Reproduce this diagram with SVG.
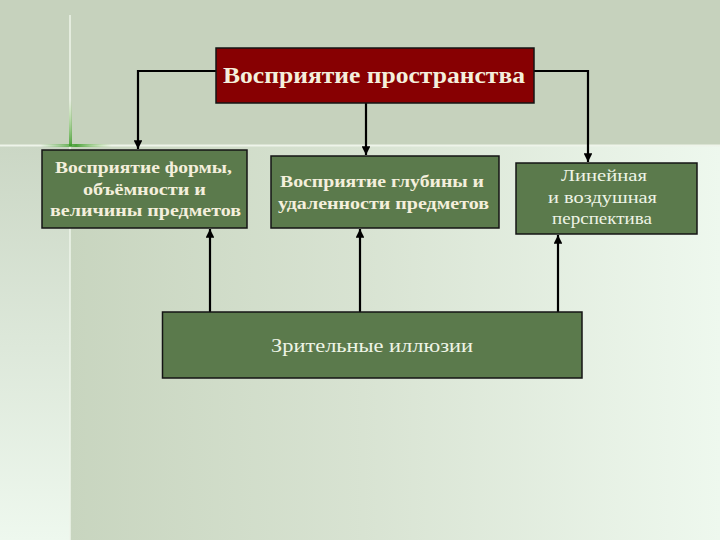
<svg xmlns="http://www.w3.org/2000/svg" width="720" height="540" viewBox="0 0 720 540">
<defs>
<style>
.node{fill:#5b7a4c;stroke:#141414;stroke-width:1.5}
.head{fill:#870002;stroke:#141414;stroke-width:1.5}
.tb{font-family:"Liberation Serif","DejaVu Serif",serif;font-weight:bold;fill:#f4efdc;text-anchor:middle}
.tn{font-family:"Liberation Serif","DejaVu Serif",serif;fill:#eef4e6;text-anchor:middle}
.con{fill:none;stroke:#000;stroke-width:2.2}
</style>
<marker id="arr" viewBox="0 0 10 10" refX="10" refY="5" markerWidth="4" markerHeight="4" orient="auto" markerUnits="strokeWidth">
<path d="M0,0 L10,5 L0,10 z" fill="#000"/>
</marker>
<linearGradient id="bgMain" x1="0" y1="0" x2="1" y2="0">
<stop offset="0" stop-color="#c8d5bf"/>
<stop offset="0.45" stop-color="#d8e3d2"/>
<stop offset="1" stop-color="#eef8ee"/>
</linearGradient>
<linearGradient id="bgLeft" x1="0" y1="0" x2="0" y2="1">
<stop offset="0" stop-color="#cbd7c5"/>
<stop offset="1" stop-color="#eef8ee"/>
</linearGradient>
<linearGradient id="glowH" x1="0" y1="0" x2="1" y2="0">
<stop offset="0" stop-color="#5fb04a" stop-opacity="0"/>
<stop offset="0.5" stop-color="#3c9a2a" stop-opacity="0.9"/>
<stop offset="1" stop-color="#8fd06a" stop-opacity="0"/>
</linearGradient>
<linearGradient id="glowV" x1="0" y1="0" x2="0" y2="1">
<stop offset="0" stop-color="#8fd06a" stop-opacity="0"/>
<stop offset="1" stop-color="#3c9a2a" stop-opacity="0.9"/>
</linearGradient>
</defs>
<rect x="0" y="0" width="720" height="145" fill="#c6d2bd"/>
<rect x="70" y="145" width="650" height="395" fill="url(#bgMain)"/>
<rect x="0" y="145" width="70" height="395" fill="url(#bgLeft)"/>
<line x1="0" y1="145.5" x2="720" y2="145.5" stroke="#eef4ea" stroke-width="2"/>
<line x1="70" y1="15" x2="70" y2="540" stroke="#eef4ea" stroke-width="1.5"/>
<rect x="40" y="144" width="72" height="3" fill="url(#glowH)"/>
<rect x="69" y="100" width="3" height="46" fill="url(#glowV)"/>

<g id="connectors">
<path class="con" d="M216,71 H138 V149" marker-end="url(#arr)"/>
<path class="con" d="M366,103 V155" marker-end="url(#arr)"/>
<path class="con" d="M534,71 H588 V162" marker-end="url(#arr)"/>
<path class="con" d="M210,312 V229" marker-end="url(#arr)"/>
<path class="con" d="M360,312 V229" marker-end="url(#arr)"/>
<path class="con" d="M558,312 V235" marker-end="url(#arr)"/>
</g>

<g id="node-space">
<rect class="head" x="216" y="48" width="318" height="55"/>
<text class="tb" x="374" y="83" font-size="23" textLength="302" lengthAdjust="spacingAndGlyphs">Восприятие пространства</text>
</g>
<g id="node-form">
<rect class="node" x="42" y="150" width="205" height="78"/>
<text class="tb" x="143.5" y="173" font-size="17" textLength="177" lengthAdjust="spacingAndGlyphs">Восприятие формы,</text>
<text class="tb" x="144.5" y="194.5" font-size="17" textLength="123" lengthAdjust="spacingAndGlyphs">объёмности и</text>
<text class="tb" x="145.5" y="216" font-size="17" textLength="191" lengthAdjust="spacingAndGlyphs">величины предметов</text>
</g>
<g id="node-depth">
<rect class="node" x="271" y="156" width="228" height="72"/>
<text class="tb" x="382" y="187" font-size="17" textLength="204" lengthAdjust="spacingAndGlyphs">Восприятие глубины и</text>
<text class="tb" x="383.5" y="208.5" font-size="17" textLength="211" lengthAdjust="spacingAndGlyphs">удаленности предметов</text>
</g>
<g id="node-persp">
<rect class="node" x="516" y="163" width="181" height="71"/>
<text class="tn" x="604" y="181" font-size="17" textLength="86" lengthAdjust="spacingAndGlyphs">Линейная</text>
<text class="tn" x="602.5" y="203" font-size="17" textLength="109" lengthAdjust="spacingAndGlyphs">и воздушная</text>
<text class="tn" x="602" y="224" font-size="17" textLength="100" lengthAdjust="spacingAndGlyphs">перспектива</text>
</g>
<g id="node-illusions">
<rect class="node" x="162.5" y="312" width="419.5" height="66"/>
<text class="tn" x="372" y="352" font-size="19" textLength="202" lengthAdjust="spacingAndGlyphs">Зрительные иллюзии</text>
</g>
</svg>
